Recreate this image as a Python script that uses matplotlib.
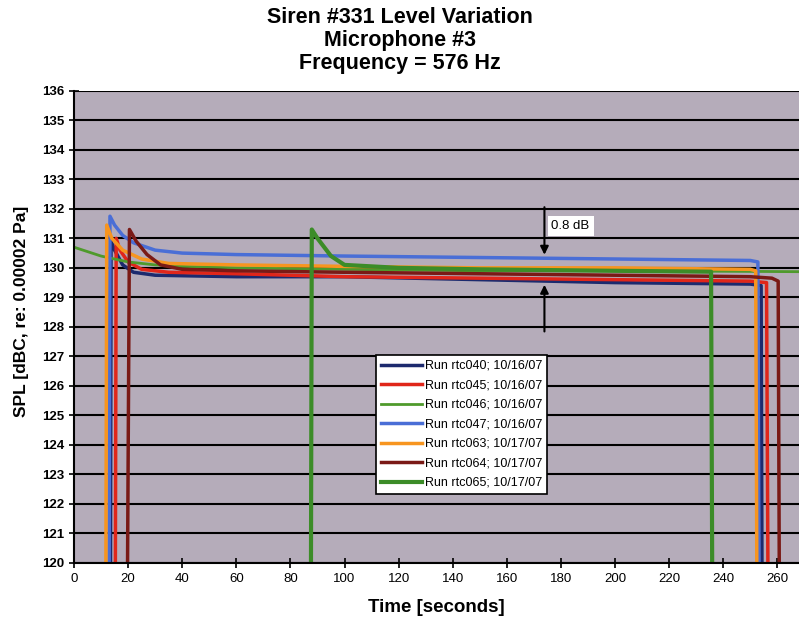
import matplotlib.pyplot as plt
import numpy as np

plt.rcParams['font.family'] = ['Liberation Sans', 'DejaVu Sans']

# points: (time [s], SPL [dB])
t040 = [13.5, 13.7, 15, 18, 22, 30, 60, 100, 150, 200, 250, 254, 254.3]
y040 = [120, 130.9, 130.6, 130.1, 129.85, 129.75, 129.7, 129.7, 129.6, 129.5, 129.45, 129.4, 120]

t045 = [15.3, 15.6, 17, 20, 25, 35, 60, 100, 150, 200, 250, 256, 256.5]
y045 = [120, 131.0, 130.6, 130.2, 129.95, 129.85, 129.8, 129.7, 129.65, 129.6, 129.55, 129.5, 120]

t046 = [0, 10, 20, 30, 40, 60, 100, 150, 200, 250, 268]
y046 = [130.7, 130.4, 130.2, 130.1, 130.05, 130.0, 129.95, 129.9, 129.9, 129.88, 129.87]

t047 = [13.0, 13.3, 15, 18, 22, 30, 40, 60, 100, 150, 200, 250, 252.8, 253.2]
y047 = [120, 131.75, 131.45, 131.1, 130.85, 130.6, 130.5, 130.45, 130.4, 130.35, 130.3, 130.25, 130.2, 120]

t063 = [11.8, 12.1, 14, 18, 25, 35, 60, 100, 150, 200, 250, 252, 252.4]
y063 = [120, 131.45, 131.0, 130.6, 130.3, 130.15, 130.1, 130.05, 130.0, 130.0, 129.95, 129.9, 120]

t064 = [19.8, 20.5, 23, 27, 32, 40, 60, 100, 150, 200, 250, 258, 260.3, 260.7]
y064 = [120, 131.3, 130.9, 130.45, 130.1, 129.95, 129.9, 129.85, 129.8, 129.75, 129.7, 129.65, 129.55, 120]

t065 = [87.6, 87.9, 90, 95, 100, 120, 150, 200, 235.5, 235.9]
y065 = [120, 131.3, 131.0, 130.4, 130.1, 130.0, 129.95, 129.9, 129.87, 120]

labels = ['Run rtc040; 10/16/07', 'Run rtc045; 10/16/07', 'Run rtc046; 10/16/07',
          'Run rtc047; 10/16/07', 'Run rtc063; 10/17/07', 'Run rtc064; 10/17/07',
          'Run rtc065; 10/17/07']
colors = ['#1c2a6e', '#e0261a', '#4f9a2c', '#4a6ed6', '#f7951f', '#7a1a16', '#3c8c28']
widths = [2.5, 2.5, 2.0, 2.5, 2.5, 2.5, 3.0]

series = [(t040, y040), (t045, y045), (t046, y046), (t047, y047),
          (t063, y063), (t064, y064), (t065, y065)]

fig = plt.figure(figsize=(7.99, 6.22), dpi=100)
ax = fig.add_axes([0.0926, 0.095, 0.9074, 0.759])
ax.set_facecolor('#b5acba')

for (t, y), lab, c, w in zip(series, labels, colors, widths):
    ax.plot(t, y, color=c, lw=w, label=lab)

ax.set_xlim(0, 268)
ax.set_ylim(120, 136)
ax.set_xticks(np.arange(0, 261, 20))
ax.set_yticks(np.arange(120, 137, 1))
ax.grid(axis='y', color='black', lw=1.5)
ax.set_axisbelow(True)
for s in ['top', 'right']:
    ax.spines[s].set_visible(False)
ax.spines['left'].set_linewidth(1.5)
ax.spines['bottom'].set_linewidth(1.5)
ax.tick_params(direction='inout', length=7, width=1.2, colors='black')
for lbl in ax.get_yticklabels():
    lbl.set_fontsize(9.5)
    lbl.set_fontweight('bold')
for lbl in ax.get_xticklabels():
    lbl.set_fontsize(9.5)

ax.set_xlabel('Time [seconds]', fontsize=13.5, fontweight='bold', labelpad=10)
fig.text(22 / 799, 1 - 311 / 622, 'SPL [dBC, re: 0.00002 Pa]', rotation=90,
         ha='center', va='center', fontsize=12.5, fontweight='bold')
fig.text(0.5, 1 - 7 / 622, 'Siren #331 Level Variation\nMicrophone #3\nFrequency = 576 Hz',
         ha='center', va='top', fontsize=15.5, fontweight='bold', linespacing=1.12)

# 0.8 dB marker
ax.annotate('', xy=(173.9, 130.35), xytext=(173.9, 132.15),
            arrowprops=dict(arrowstyle='-|>', color='black', lw=1.5, mutation_scale=12))
ax.annotate('', xy=(173.9, 129.52), xytext=(173.9, 127.75),
            arrowprops=dict(arrowstyle='-|>', color='black', lw=1.5, mutation_scale=12))
ax.text(176.5, 131.42, '0.8 dB', fontsize=9.5, va='center', ha='left',
        bbox=dict(boxstyle='square,pad=0.3', fc='white', ec='none'))

leg = ax.legend(loc='lower left', bbox_to_anchor=(0.4166, 0.146), fontsize=9,
                frameon=True, fancybox=False, framealpha=1, edgecolor='black',
                handlelength=3.3, handletextpad=0.2, borderpad=0.4, labelspacing=0.6,
                borderaxespad=0)
leg.get_frame().set_linewidth(1.2)

fig.savefig('out.png', dpi=100)
